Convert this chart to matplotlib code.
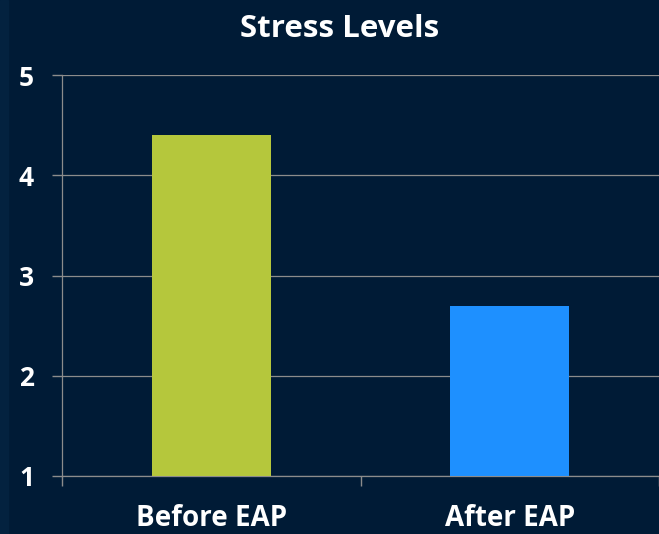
import matplotlib
matplotlib.use('Agg')
import matplotlib.pyplot as plt
from matplotlib.patches import Rectangle

# data
categories = ['Before EAP', 'After EAP']
stress = [4.4, 2.7]
bar_colors = ['#b5c73c', '#1e90ff']

bg = '#001b36'
grid_col = '#8c8c8c'

plt.rcParams['font.family'] = ['Open Sans', 'DejaVu Sans']

fig = plt.figure(figsize=(6.59, 5.34), dpi=100, facecolor=bg)
# slightly lighter strip on the far left
fig.patches.append(Rectangle((0, 0), 8 / 659, 1, transform=fig.transFigure,
                             color='#03223f', zorder=0))

ax = fig.add_axes([62 / 659, 1 - 476 / 534, 597 / 659, 401 / 534])
ax.set_facecolor(bg)

x = range(len(categories))
ax.bar(x, [v - 1 for v in stress], bottom=1, width=0.4, color=bar_colors, zorder=3)

ax.set_xlim(-0.5, 1.5)
ax.set_ylim(1, 5)
ax.set_yticks([1, 2, 3, 4, 5])
ax.set_yticklabels(['1', '2', '3', '4', '5'], fontsize=19, fontweight='bold', color='white')
ax.tick_params(axis='y', length=7.2, color=grid_col, width=1, pad=13)

ax.set_xticks(list(x))
ax.set_xticklabels(categories, fontsize=20, fontweight='bold', color='white')
ax.set_xticks([-0.5, 0.5, 1.5], minor=True)
ax.tick_params(axis='x', which='major', length=0, pad=20)
ax.tick_params(axis='x', which='minor', length=7.2, color=grid_col, width=1)

ax.grid(axis='y', color=grid_col, linewidth=0.9, zorder=0)
for s in ['top', 'right']:
    ax.spines[s].set_visible(False)
for s in ['left', 'bottom']:
    ax.spines[s].set_color(grid_col)
    ax.spines[s].set_linewidth(0.9)

fig.text(340 / 659, 1 - 29 / 534, 'Stress Levels', ha='center', va='center',
         fontsize=22.5, fontweight='bold', color='white')

fig.savefig('out.png', dpi=100, facecolor=bg)
